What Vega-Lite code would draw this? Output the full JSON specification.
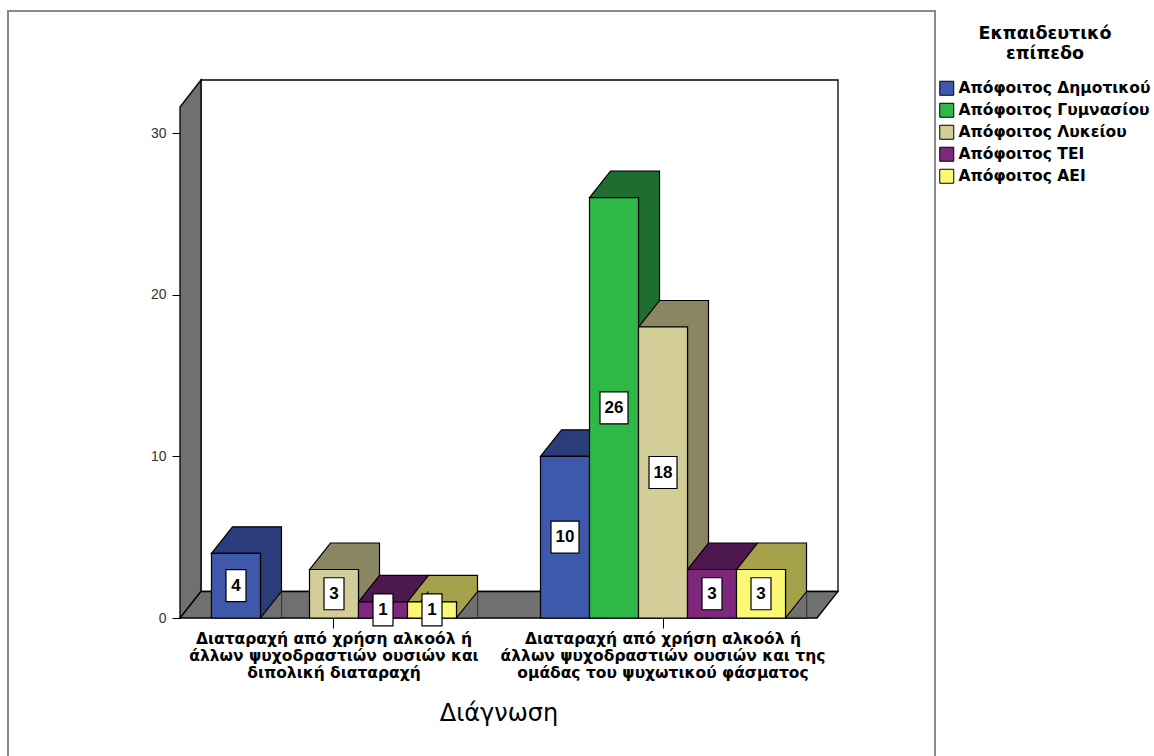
{
  "$schema": "https://vega.github.io/schema/vega-lite/v6.json",
  "width": 637,
  "height": 511,
  "autosize": "none",
  "padding": {"left": 180, "top": 107, "right": 337, "bottom": 138},
  "background": "white",
  "config": {"view": {"stroke": null}, "font": "Liberation Sans"},
  "data": {
    "values": [
      {"diag": "Διαταραχή από χρήση αλκοόλ ή άλλων ψυχοδραστιών ουσιών και διπολική διαταραχή", "edu": "Απόφοιτος Δημοτικού", "n": 4},
      {"diag": "Διαταραχή από χρήση αλκοόλ ή άλλων ψυχοδραστιών ουσιών και διπολική διαταραχή", "edu": "Απόφοιτος Λυκείου", "n": 3},
      {"diag": "Διαταραχή από χρήση αλκοόλ ή άλλων ψυχοδραστιών ουσιών και διπολική διαταραχή", "edu": "Απόφοιτος ΤΕΙ", "n": 1},
      {"diag": "Διαταραχή από χρήση αλκοόλ ή άλλων ψυχοδραστιών ουσιών και διπολική διαταραχή", "edu": "Απόφοιτος ΑΕΙ", "n": 1},
      {"diag": "Διαταραχή από χρήση αλκοόλ ή άλλων ψυχοδραστιών ουσιών και της ομάδας του ψυχωτικού φάσματος", "edu": "Απόφοιτος Δημοτικού", "n": 10},
      {"diag": "Διαταραχή από χρήση αλκοόλ ή άλλων ψυχοδραστιών ουσιών και της ομάδας του ψυχωτικού φάσματος", "edu": "Απόφοιτος Γυμνασίου", "n": 26},
      {"diag": "Διαταραχή από χρήση αλκοόλ ή άλλων ψυχοδραστιών ουσιών και της ομάδας του ψυχωτικού φάσματος", "edu": "Απόφοιτος Λυκείου", "n": 18},
      {"diag": "Διαταραχή από χρήση αλκοόλ ή άλλων ψυχοδραστιών ουσιών και της ομάδας του ψυχωτικού φάσματος", "edu": "Απόφοιτος ΤΕΙ", "n": 3},
      {"diag": "Διαταραχή από χρήση αλκοόλ ή άλλων ψυχοδραστιών ουσιών και της ομάδας του ψυχωτικού φάσματος", "edu": "Απόφοιτος ΑΕΙ", "n": 3}
    ]
  },
  "layer": [
    {
      "layer": [
        {
          "data": {"values": [{}]},
          "mark": {"type": "point", "shape": "M-172,200V-607H755V200", "size": 4, "filled": false, "fill": null, "stroke": "#8a8a8a", "strokeWidth": 2, "opacity": 1},
          "encoding": {"x": {"value": 0}, "y": {"datum": 0, "type": "quantitative"}}
        },
        {
          "data": {"values": [{}]},
          "mark": {"type": "point", "shape": "M21,-26.5V-538H658V-26.5Z", "size": 4, "filled": true, "fill": "white", "stroke": "black", "strokeWidth": 1.3, "opacity": 1},
          "encoding": {"x": {"value": 0}, "y": {"datum": 0, "type": "quantitative"}}
        },
        {
          "data": {"values": [{}]},
          "mark": {"type": "point", "shape": "M0,0V-511L21,-538V-26.5Z", "size": 4, "filled": true, "fill": "#707070", "stroke": "black", "strokeWidth": 1.3, "opacity": 1},
          "encoding": {"x": {"value": 0}, "y": {"datum": 0, "type": "quantitative"}}
        },
        {
          "data": {"values": [{}]},
          "mark": {"type": "point", "shape": "M0,0H637L658,-26.5H21Z", "size": 4, "filled": true, "fill": "#707070", "stroke": "black", "strokeWidth": 1.3, "opacity": 1},
          "encoding": {"x": {"value": 0}, "y": {"datum": 0, "type": "quantitative"}}
        },
        {
          "mark": {"type": "point", "shape": "M-24.5,0L-3.5,-26.5H45.5V700H24.5V0Z", "size": 4, "filled": true, "stroke": "black", "strokeWidth": 1.2, "opacity": 1, "clip": true},
          "encoding": {
            "x": {"field": "diag", "type": "nominal", "title": "Διάγνωση", "scale": {"domain": ["Διαταραχή από χρήση αλκοόλ ή άλλων ψυχοδραστιών ουσιών και διπολική διαταραχή", "Διαταραχή από χρήση αλκοόλ ή άλλων ψυχοδραστιών ουσιών και της ομάδας του ψυχωτικού φάσματος"], "paddingInner": 0.2553, "paddingOuter": 0.0957}},
            "xOffset": {"field": "edu", "type": "nominal", "scale": {"domain": ["Απόφοιτος Δημοτικού", "Απόφοιτος Γυμνασίου", "Απόφοιτος Λυκείου", "Απόφοιτος ΤΕΙ", "Απόφοιτος ΑΕΙ"], "paddingInner": 0, "paddingOuter": 0}},
            "y": {"field": "n", "type": "quantitative", "title": null},
            "fill": {
              "condition": [
                {"test": "datum.edu === 'Απόφοιτος Δημοτικού'", "value": "#2B3C7A"},
                {"test": "datum.edu === 'Απόφοιτος Γυμνασίου'", "value": "#1E6F2F"},
                {"test": "datum.edu === 'Απόφοιτος Λυκείου'", "value": "#8A8661"},
                {"test": "datum.edu === 'Απόφοιτος ΤΕΙ'", "value": "#4E184E"}
              ],
              "value": "#A6A24B"
            }
          }
        },
        {
          "mark": {"type": "point", "shape": "M45.5,0H24.5L45.5,-26.5", "size": 4, "filled": true, "fill": "#707070", "stroke": "black", "strokeWidth": 1.2, "opacity": 1},
          "encoding": {
            "x": {"field": "diag", "type": "nominal", "title": "Διάγνωση"},
            "xOffset": {"field": "edu", "type": "nominal"},
            "y": {"datum": 0, "type": "quantitative"}
          }
        },
        {
          "mark": {"type": "bar", "stroke": "black", "strokeWidth": 1.2},
          "encoding": {
            "x": {
              "field": "diag", "type": "nominal", "title": "Διάγνωση",
              "scale": {"domain": ["Διαταραχή από χρήση αλκοόλ ή άλλων ψυχοδραστιών ουσιών και διπολική διαταραχή", "Διαταραχή από χρήση αλκοόλ ή άλλων ψυχοδραστιών ουσιών και της ομάδας του ψυχωτικού φάσματος"], "paddingInner": 0.2553, "paddingOuter": 0.0957},
              "axis": {
                "domain": false, "grid": false, "tickColor": "black", "tickSize": 10, "tickWidth": 1,
                "labelFont": "DejaVu Sans", "labelFontSize": 15.5, "labelFontWeight": "bold", "labelColor": "black",
                "labelLineHeight": 17, "labelPadding": 3, "labelLimit": 400, "labelAngle": 0, "labelAlign": "center", "labelBaseline": "top",
                "labelExpr": "indexof(datum.label, 'διπολική') >= 0 ? ['Διαταραχή από χρήση αλκοόλ ή', 'άλλων ψυχοδραστιών ουσιών και', 'διπολική διαταραχή'] : ['Διαταραχή από χρήση αλκοόλ ή', 'άλλων ψυχοδραστιών ουσιών και της', 'ομάδας του ψυχωτικού φάσματος']",
                "titleFont": "DejaVu Sans", "titleFontSize": 24, "titleFontWeight": "normal", "titleColor": "black", "titlePadding": 21
              }
            },
            "xOffset": {"field": "edu", "type": "nominal", "scale": {"domain": ["Απόφοιτος Δημοτικού", "Απόφοιτος Γυμνασίου", "Απόφοιτος Λυκείου", "Απόφοιτος ΤΕΙ", "Απόφοιτος ΑΕΙ"], "paddingInner": 0, "paddingOuter": 0}},
            "y": {
              "field": "n", "type": "quantitative", "title": null,
              "scale": {"domain": [0, 31.61], "nice": false},
              "axis": {"values": [0, 10, 20, 30], "domain": false, "grid": false, "tickColor": "black", "tickSize": 8, "labelFont": "Liberation Sans", "labelFontSize": 14, "labelColor": "#333333", "labelPadding": 6}
            },
            "fill": {
              "field": "edu", "type": "nominal",
              "scale": {"domain": ["Απόφοιτος Δημοτικού", "Απόφοιτος Γυμνασίου", "Απόφοιτος Λυκείου", "Απόφοιτος ΤΕΙ", "Απόφοιτος ΑΕΙ"], "range": ["#3E58AC", "#2EB848", "#D3CE97", "#7D287D", "#FBF873"]},
              "legend": {
                "title": ["Εκπαιδευτικό", "επίπεδο"], "orient": "none", "legendX": 759, "legendY": -82,
                "symbolType": "square", "symbolSize": 196, "symbolStrokeColor": "black", "symbolStrokeWidth": 1, "symbolOpacity": 1,
                "labelFont": "DejaVu Sans", "labelFontSize": 15.5, "labelFontWeight": "bold", "labelColor": "black", "labelLimit": 300, "labelOffset": 4,
                "rowPadding": 3,
                "titleFont": "DejaVu Sans", "titleFontSize": 17.5, "titleFontWeight": "bold", "titleColor": "black",
                "titleAnchor": "middle", "titleAlign": "center", "titleLineHeight": 20, "titlePadding": 18
              }
            }
          }
        }
      ]
    },
    {
      "layer": [
        {
          "transform": [{"filter": "datum.n < 10"}],
          "mark": {"type": "point", "shape": "M-10,-16H10V16H-10Z", "size": 4, "filled": true, "fill": "white", "stroke": "black", "strokeWidth": 1.2, "opacity": 1},
          "encoding": {
            "x": {"field": "diag", "type": "nominal", "title": "Διάγνωση"},
            "xOffset": {"field": "edu", "type": "nominal"},
            "y": {"field": "n", "type": "quantitative", "title": null, "scale": {"domain": [0, 63.22], "nice": false}, "axis": null}
          }
        },
        {
          "transform": [{"filter": "datum.n >= 10"}],
          "mark": {"type": "point", "shape": "M-14,-16H14V16H-14Z", "size": 4, "filled": true, "fill": "white", "stroke": "black", "strokeWidth": 1.2, "opacity": 1},
          "encoding": {
            "x": {"field": "diag", "type": "nominal", "title": "Διάγνωση"},
            "xOffset": {"field": "edu", "type": "nominal"},
            "y": {"field": "n", "type": "quantitative", "title": null}
          }
        },
        {
          "mark": {"type": "text", "font": "Liberation Sans", "fontSize": 17, "fontWeight": "bold", "color": "black", "baseline": "middle", "align": "center"},
          "encoding": {
            "x": {"field": "diag", "type": "nominal", "title": "Διάγνωση"},
            "xOffset": {"field": "edu", "type": "nominal"},
            "y": {"field": "n", "type": "quantitative", "title": null},
            "text": {"field": "n", "type": "quantitative"}
          }
        }
      ]
    }
  ],
  "resolve": {"scale": {"y": "independent"}}
}
